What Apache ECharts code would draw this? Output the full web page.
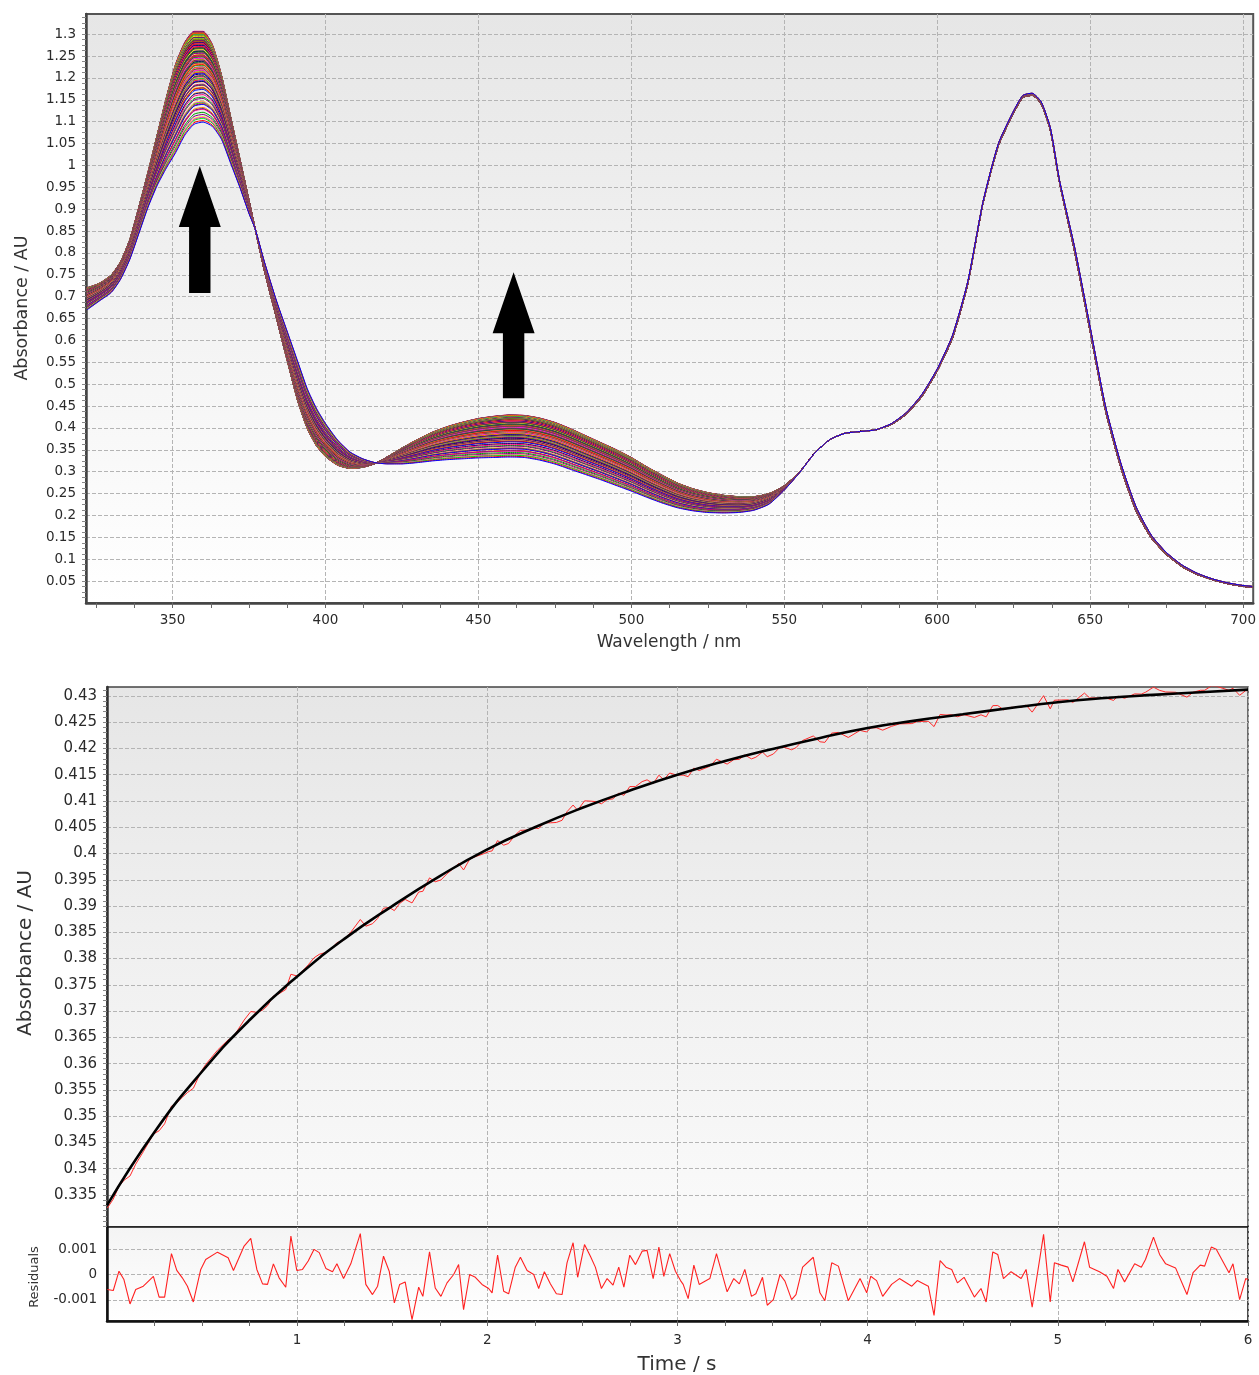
<!DOCTYPE html>
<html>
<head>
<meta charset="utf-8">
<script src="https://cdn.jsdelivr.net/npm/echarts@6/dist/echarts.min.js"></script>
<style>
html,body{margin:0;padding:0;background:#fff;}
#chart{width:1259px;height:1375px;}
</style>
</head>
<body>
<div id="chart"></div>
<script>
// ---------- Spectral data (top panel) ----------
const wavelengths = [322,326,330,333,336,339,342,345,348,351,354,357,360,363,366,369,372,375,377,380,384,388,391,394,397,400,404,408,412,416,420,425,430,435,440,445,450,455,460,465,470,475,480,485,490,495,500,505,510,515,520,525,530,535,540,545,550,555,560,565,570,575,580,585,590,595,600,605,610,615,620,625,628,631,634,637,640,645,650,655,660,665,670,675,680,685,690,695,700,703];
// first (early) spectrum
const specEarly = [0.67,0.69,0.71,0.74,0.785,0.845,0.905,0.955,0.995,1.03,1.07,1.095,1.10,1.09,1.06,1.005,0.95,0.89,0.855,0.78,0.69,0.61,0.55,0.49,0.445,0.41,0.372,0.345,0.33,0.321,0.318,0.318,0.321,0.325,0.328,0.33,0.332,0.333,0.334,0.333,0.327,0.318,0.306,0.294,0.282,0.269,0.256,0.242,0.229,0.218,0.211,0.207,0.206,0.207,0.212,0.226,0.258,0.298,0.343,0.374,0.388,0.392,0.396,0.41,0.436,0.477,0.535,0.612,0.735,0.918,1.05,1.125,1.16,1.165,1.145,1.085,0.965,0.81,0.63,0.45,0.32,0.22,0.155,0.115,0.087,0.068,0.055,0.046,0.040,0.038];
// last (late) spectrum
const specLate = [0.72,0.73,0.75,0.78,0.83,0.905,0.985,1.07,1.155,1.23,1.28,1.305,1.305,1.275,1.205,1.11,1.015,0.92,0.855,0.76,0.65,0.54,0.46,0.40,0.36,0.335,0.315,0.308,0.31,0.318,0.333,0.354,0.373,0.39,0.403,0.413,0.421,0.426,0.429,0.428,0.422,0.412,0.398,0.382,0.366,0.350,0.332,0.311,0.292,0.274,0.261,0.252,0.246,0.243,0.243,0.250,0.268,0.300,0.343,0.374,0.388,0.392,0.396,0.408,0.432,0.472,0.530,0.606,0.730,0.915,1.045,1.12,1.155,1.16,1.14,1.08,0.96,0.80,0.62,0.44,0.31,0.21,0.148,0.11,0.083,0.065,0.053,0.044,0.038,0.036];
// block arrows: [wavelength, tip, head base, shaft bottom]
const arrows = [[358.9,0.9986,0.8593,0.7086],[461.5,0.7559,0.6166,0.4681]];

// ---------- Kinetic data (middle panel) ----------
const fitTime = [0,0.25,0.5,0.75,1,1.25,1.5,1.75,2,2.25,2.5,2.75,3,3.25,3.5,3.75,4,4.25,4.5,4.75,5,5.25,5.5,5.75,6];
const fitAbs = [0.3330,0.3470,0.3585,0.3683,0.3766,0.3838,0.3900,0.3957,0.4008,0.4050,0.4087,0.4120,0.4150,0.4176,0.4199,0.4220,0.4239,0.4253,0.4265,0.4277,0.4288,0.4296,0.4302,0.4307,0.4312];

// ---------- Residuals (bottom panel) ----------
const residTime = [0.002,0.033,0.063,0.089,0.121,0.151,0.191,0.244,0.274,0.303,0.339,0.367,0.396,0.423,0.454,0.493,0.519,0.581,0.637,0.665,0.721,0.756,0.788,0.818,0.844,0.875,0.905,0.940,0.967,0.998,1.028,1.058,1.089,1.116,1.151,1.186,1.209,1.244,1.282,1.332,1.361,1.396,1.423,1.454,1.484,1.511,
1.539,1.568,1.604,1.639,1.661,1.696,1.726,1.756,1.788,1.823,1.849,1.875,1.907,1.937,1.972,2.007,2.025,2.054,2.086,2.112,2.147,2.174,2.209,2.244,2.270,2.300,2.332,2.363,2.393,2.419,2.451,2.475,2.511,2.542,2.568,2.600,2.630,2.661,2.691,2.718,2.749,2.779,2.814,2.840,2.872,2.902,2.928,2.959,2.989,3.016,
3.030,3.056,3.086,3.114,3.170,3.205,3.261,3.296,3.325,3.354,3.389,3.412,3.447,3.472,3.504,3.539,3.565,3.600,3.623,3.658,3.714,3.749,3.775,3.811,3.846,3.898,3.960,3.995,4.016,4.047,4.079,4.126,4.167,4.232,4.261,4.296,4.319,4.349,4.381,4.412,4.442,4.472,4.507,
4.561,4.596,4.623,4.658,4.684,4.714,4.754,4.807,4.833,4.865,4.925,4.960,4.982,5.018,5.053,5.079,5.140,5.167,5.219,5.258,5.293,5.316,5.351,5.404,5.439,5.461,5.503,5.535,5.567,5.619,5.679,5.711,5.749,5.772,5.807,5.833,5.900,5.921,5.956,5.988,6.0];
const residVal = [-0.00059,-0.00063,0.00013,-0.00020,-0.00116,-0.00059,-0.00046,-0.00007,-0.00089,-0.00089,0.00082,0.00016,-0.00013,-0.00046,-0.00108,0.00020,0.00059,0.00088,0.00066,0.00016,0.00112,0.00142,0.00020,-0.00037,-0.00039,0.00042,-0.00013,-0.00050,0.00151,0.00016,0.00020,0.00053,0.00099,0.00086,0.00024,0.00011,0.00042,-0.00016,0.00042,0.00161,-0.00039,-0.00079,-0.00046,0.00072,0.00013,-0.00112,
-0.00039,-0.00029,-0.00178,-0.00050,-0.00086,0.00089,-0.00053,-0.00086,-0.00033,0.00000,0.00039,-0.00138,0.00000,-0.00011,-0.00039,-0.00055,-0.00072,0.00076,-0.00066,-0.00076,0.00029,0.00068,0.00016,0.00000,-0.00055,0.00011,-0.00037,-0.00076,-0.00079,0.00046,0.00125,-0.00011,0.00118,0.00072,0.00029,-0.00055,-0.00016,-0.00042,0.00029,-0.00050,0.00076,0.00039,0.00092,0.00095,-0.00016,0.00108,-0.00007,0.00082,0.00013,-0.00024,
-0.00039,-0.00095,0.00037,-0.00039,-0.00016,0.00082,-0.00068,-0.00016,-0.00037,0.00020,-0.00086,-0.00076,-0.00011,-0.00121,-0.00099,0.00000,-0.00026,-0.00099,-0.00079,0.00029,0.00068,-0.00072,-0.00103,0.00046,0.00033,-0.00103,-0.00016,-0.00072,-0.00007,-0.00024,-0.00086,-0.00039,-0.00016,-0.00046,-0.00024,-0.00037,-0.00046,-0.00161,0.00055,0.00029,0.00020,-0.00033,-0.00011,
-0.00089,-0.00055,-0.00108,0.00089,0.00079,-0.00016,0.00011,-0.00016,0.00020,-0.00129,0.00158,-0.00108,0.00046,0.00037,0.00029,-0.00029,0.00129,0.00029,0.00011,-0.00007,-0.00055,0.00020,-0.00029,0.00042,0.00029,0.00059,0.00147,0.00079,0.00042,0.00026,-0.00079,0.00007,0.00037,0.00033,0.00108,0.00099,0.00007,0.00042,-0.00099,-0.00016,-0.00020];

// ---------- Tick labels ----------
const wlLabels = [350,400,450,500,550,600,650,700];
const timeLabels = [1,2,3,4,5,6];
const absTopLabels = []; for (let k = 1; k <= 26; k++) absTopLabels.push(Math.round(k * 50) / 1000);
const absKinLabels = []; for (let k = 67; k <= 86; k++) absKinLabels.push(Math.round(k * 5) / 1000);
const residLabels = [-0.001, 0, 0.001];

// minor tick positions
const wlMinor = []; for (let v = 325; v <= 703; v += 12.5) wlMinor.push(v);
const timeMinor = []; for (let k = 1; k <= 24; k++) timeMinor.push(k * 0.25);
const absTopMinor = []; for (let k = 1; k <= 107; k++) absTopMinor.push(Math.round(k * 125) / 10000);
const absKinMinor = []; for (let k = 329; k <= 431; k++) absKinMinor.push(k / 1000);

// ---------- derived series ----------
function fitAt(t) {
  for (let i = 0; i < fitTime.length - 1; i++) {
    if (t <= fitTime[i + 1]) {
      const f = (t - fitTime[i]) / (fitTime[i + 1] - fitTime[i]);
      return fitAbs[i] + f * (fitAbs[i + 1] - fitAbs[i]);
    }
  }
  return fitAbs[fitAbs.length - 1];
}
const kinData = residTime.map((t, i) => [t, fitAt(t) + residVal[i]]);
const fitData = fitTime.map((t, i) => [t, fitAbs[i]]);
const residData = residTime.map((t, i) => [t, residVal[i]]);

const palette = ['#0000ff','#ff0000','#00ee00','#ff00ff','#ffff00','#800080','#00a000','#ff0080','#000080','#ff8000'];
const a0 = fitAbs[0], a1 = fitAbs[fitAbs.length - 1];
const specSeries = kinData.map((p, i) => {
  const w = (p[1] - a0) / (a1 - a0);
  return {
    type: 'line', xAxisIndex: 0, yAxisIndex: 0, silent: true,
    showSymbol: false, smooth: 0.2,
    lineStyle: { width: 1, color: palette[i % palette.length] },
    data: wavelengths.map((wl, j) => [wl, specEarly[j] + w * (specLate[j] - specEarly[j])]),
    z: 2 + (kinData.length - i) * 0.001
  };
});

const fmt = v => String(parseFloat(Number(v).toFixed(5)));
const gridLine = { show: true, lineStyle: { color: '#b4b4b4', type: [4, 2], width: 1 } };
const labelFont = { fontFamily: 'DejaVu Sans', color: '#2a2a2a' };
const noLine = { show: false, onZero: false };

const chart = echarts.init(document.getElementById('chart'), null, { renderer: 'canvas' });
const grad = (c0, c1) => new echarts.graphic.LinearGradient(0, 0, 0, 1, [{ offset: 0, color: c0 }, { offset: 1, color: c1 }]);

const option = {
  animation: false,
  backgroundColor: '#ffffff',
  grid: [
    { left: 86, top: 14, width: 1168, height: 589, show: true, borderColor: '#555', borderWidth: 2, backgroundColor: grad('#e6e6e6', '#ffffff') },
    { left: 107, top: 687, width: 1141, height: 540, show: true, borderColor: '#444', borderWidth: 1.5, backgroundColor: grad('#e6e6e6', '#fafafa') },
    { left: 107, top: 1227, width: 1141, height: 94, show: true, borderColor: '#111', borderWidth: 1.5, backgroundColor: grad('#f4f4f4', '#ffffff') }
  ],
  xAxis: [
    { gridIndex: 0, type: 'value', min: 321.7, max: 703.3, position: 'bottom',
      axisLine: { show: true, onZero: false, lineStyle: { color: '#444', width: 2.5 } },
      axisTick: { show: false, customValues: wlLabels },
      axisLabel: { customValues: wlLabels, fontSize: 13.5, margin: 10, ...labelFont, formatter: fmt },
      splitLine: gridLine },
    { gridIndex: 0, type: 'value', min: 321.7, max: 703.3, position: 'bottom',
      axisLine: noLine, axisLabel: { show: false }, splitLine: { show: false },
      axisTick: { show: true, customValues: wlMinor, length: 5, lineStyle: { color: '#666' } } },
    { gridIndex: 1, type: 'value', min: 0, max: 6, interval: 1, position: 'bottom',
      axisLine: noLine, axisTick: { show: false }, axisLabel: { show: false }, splitLine: gridLine },
    { gridIndex: 2, type: 'value', min: 0, max: 6, position: 'bottom',
      axisLine: { show: true, onZero: false, lineStyle: { color: '#111', width: 2.5 } },
      axisTick: { show: false, customValues: [0,1,2,3,4,5,6] },
      axisLabel: { customValues: timeLabels, fontSize: 13.5, margin: 12, ...labelFont, formatter: fmt },
      splitLine: gridLine },
    { gridIndex: 2, type: 'value', min: 0, max: 6, position: 'bottom',
      axisLine: noLine, axisLabel: { show: false }, splitLine: { show: false },
      axisTick: { show: true, customValues: timeMinor, length: 5, lineStyle: { color: '#666' } } }
  ],
  yAxis: [
    { gridIndex: 0, type: 'value', min: 0, max: 1.346, position: 'left',
      axisLine: { show: true, onZero: false, lineStyle: { color: '#444', width: 2.5 } },
      axisTick: { show: false, customValues: absTopLabels },
      axisLabel: { customValues: absTopLabels, fontSize: 13.5, margin: 10, ...labelFont, formatter: fmt },
      splitLine: gridLine },
    { gridIndex: 0, type: 'value', min: 0, max: 1.346, position: 'left',
      axisLine: noLine, axisLabel: { show: false }, splitLine: { show: false },
      axisTick: { show: true, customValues: absTopMinor, length: 4, lineStyle: { color: '#888' } } },
    { gridIndex: 1, type: 'value', min: 0.3289, max: 0.4317, position: 'left',
      axisLine: { show: true, onZero: false, lineStyle: { color: '#333', width: 2.5 } },
      axisTick: { show: false, customValues: absKinLabels },
      axisLabel: { customValues: absKinLabels, fontSize: 15, margin: 10, ...labelFont, formatter: fmt },
      splitLine: gridLine },
    { gridIndex: 1, type: 'value', min: 0.3289, max: 0.4317, position: 'left',
      axisLine: noLine, axisLabel: { show: false }, splitLine: { show: false },
      axisTick: { show: true, customValues: absKinMinor, length: 4, lineStyle: { color: '#888' } } },
    { gridIndex: 2, type: 'value', min: -0.00183, max: 0.00187, position: 'left',
      axisLine: { show: true, onZero: false, lineStyle: { color: '#111', width: 2.5 } },
      axisTick: { show: false, customValues: residLabels },
      axisLabel: { customValues: residLabels, fontSize: 13.5, margin: 10, ...labelFont, formatter: fmt },
      splitLine: gridLine }
  ],
  series: [
    ...specSeries,
    { type: 'custom', xAxisIndex: 0, yAxisIndex: 0, data: arrows, z: 10, silent: true,
      renderItem: function (params, api) {
        const x = api.value(0);
        const tip = api.coord([x, api.value(1)]);
        const base = api.coord([x, api.value(2)]);
        const bot = api.coord([x, api.value(3)]);
        const hw = 21, sw = 10.7, cx = tip[0];
        return { type: 'polygon', shape: { points: [[cx, tip[1]], [cx + hw, base[1]], [cx + sw, base[1]], [cx + sw, bot[1]], [cx - sw, bot[1]], [cx - sw, base[1]], [cx - hw, base[1]]] }, style: { fill: '#000' } };
      } },
    { type: 'line', xAxisIndex: 2, yAxisIndex: 2, data: kinData, showSymbol: false, silent: true,
      lineStyle: { color: '#ff2a2a', width: 1 }, z: 3 },
    { type: 'line', xAxisIndex: 2, yAxisIndex: 2, data: fitData, showSymbol: false, silent: true, smooth: true,
      lineStyle: { color: '#000', width: 2.6 }, z: 4 },
    { type: 'line', xAxisIndex: 3, yAxisIndex: 4, data: residData, showSymbol: false, silent: true,
      lineStyle: { color: '#ff2020', width: 1.1 }, z: 3 }
  ],
  graphic: [
    { type: 'text', x: 22, y: 308, rotation: Math.PI / 2, style: { text: 'Absorbance / AU', font: '17.5px "DejaVu Sans"', fill: '#333', align: 'center', verticalAlign: 'middle' } },
    { type: 'text', x: 669, y: 643, style: { text: 'Wavelength / nm', font: '17px "DejaVu Sans"', fill: '#333', align: 'center', verticalAlign: 'middle' } },
    { type: 'text', x: 26, y: 953, rotation: Math.PI / 2, style: { text: 'Absorbance / AU', font: '20px "DejaVu Sans"', fill: '#333', align: 'center', verticalAlign: 'middle' } },
    { type: 'text', x: 35, y: 1277, rotation: Math.PI / 2, style: { text: 'Residuals', font: '13px "DejaVu Sans"', fill: '#333', align: 'center', verticalAlign: 'middle' } },
    { type: 'text', x: 677, y: 1365, style: { text: 'Time / s', font: '20px "DejaVu Sans"', fill: '#333', align: 'center', verticalAlign: 'middle' } }
  ]
};
chart.setOption(option);
</script>
</body>
</html>
